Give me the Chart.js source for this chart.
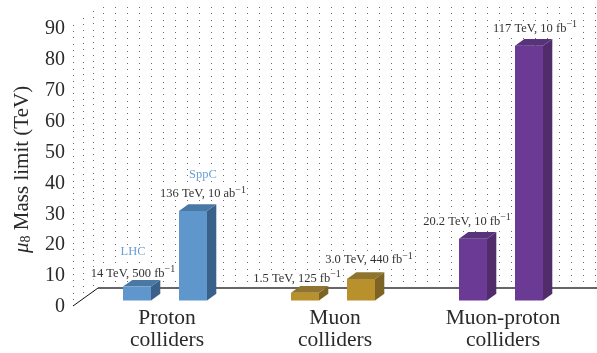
<!DOCTYPE html>
<html><head><meta charset="utf-8">
<script src="https://cdn.jsdelivr.net/npm/chart.js@4"></script>
<style>html,body{margin:0;padding:0;background:#fff}canvas{display:block}</style></head>
<body><canvas id="c" width="597" height="353"></canvas>
<script>
const categories = ["LHC","SppC","","Muon 1.5","Muon 3.0","","Muon-proton 20.2","Muon-proton 117"];
const massLimit = [4.5,29,null,2.5,7,null,20,82.5];
const yTicks = [0,10,20,30,40,50,60,70,80,90];
const energyLabels = ["14 TeV, 500 fb","136 TeV, 10 ab",null,"1.5 TeV, 125 fb","3.0 TeV, 440 fb",null,"20.2 TeV, 10 fb","117 TeV, 10 fb"];
const groupNames = [["Proton","colliders"],["Muon","colliders"],["Muon-proton","colliders"]];
const groupBars = [[0,1],[3,4],[6,7]];
const machineNames = {0:"LHC",1:"SppC"};
const frontColors = ["#5f97cd","#5f97cd","#000","#b8902c","#b8902c","#000","#6b3a94","#6b3a94"];
const sideColors  = ["#3a6189","#3a6189","#000","#7d6425","#7d6425","#000","#502c6b","#502c6b"];
const topColors   = ["#4a78a5","#4a78a5","#000","#8f7430","#8f7430","#000","#59327c","#59327c"];
const labelShift = [[-4,-13],[10,-17],null,[-8,-14],[8,-19],null,[-6,-17],[6,-17]];
const SERIF = '"Liberation Serif", serif';
const DX = 9.3, DY = 6.7;

function poly(ctx, pts, color){
  ctx.fillStyle = color; ctx.beginPath();
  pts.forEach((p,i)=> i?ctx.lineTo(p[0],p[1]):ctx.moveTo(p[0],p[1]));
  ctx.closePath(); ctx.fill();
}
const scene = {
  id:'scene',
  beforeDatasetsDraw(chart){
    const ctx = chart.ctx, y = chart.scales.y;
    ctx.save();
    ctx.fillStyle = '#6a6a6a';
    for(let v=0;v<=90;v+=2){
      const py = y.getPixelForValue(v);
      if(v<=88) for(let x=103;x<597;x+=12) ctx.fillRect(x,Math.round(py-23-(v/90)*2),1,1);
      [[73,0],[83,7],[93,14]].forEach(s=>{
        ctx.fillRect(s[0],Math.round(py-s[1]+1-(v/90)*2),1,1);
      });
    }
    ctx.strokeStyle='#666'; ctx.lineWidth=2;
    ctx.beginPath(); ctx.moveTo(98,288); ctx.lineTo(597,288); ctx.stroke();
    ctx.strokeStyle='#111'; ctx.lineWidth=1;
    ctx.beginPath(); ctx.moveTo(73,306); ctx.lineTo(98,288); ctx.stroke();
    ctx.restore();
  },
  afterDatasetsDraw(chart){
    const ctx = chart.ctx, meta = chart.getDatasetMeta(0);
    ctx.save();
    meta.data.forEach((b,i)=>{
      if(massLimit[i]==null) return;
      const l=b.x-b.width/2, r=b.x+b.width/2, t=b.y, bt=b.base;
      poly(ctx,[[r,t],[r+DX,t-DY],[r+DX,bt-DY],[r,bt]],sideColors[i]);
      poly(ctx,[[l,t],[l+DX,t-DY],[r+DX,t-DY],[r,t]],topColors[i]);
      const s=labelShift[i], cx=b.x+s[0], cy=t+s[1];
      ctx.textBaseline='middle';
      ctx.font='12.5px '+SERIF;
      const w1=ctx.measureText(energyLabels[i]).width;
      ctx.font='10px '+SERIF;
      const w2=ctx.measureText('\u22121').width;
      const x0=cx-(w1+w2)/2;
      ctx.textAlign='left';
      ctx.fillStyle='#fff'; ctx.fillRect(x0-1,cy-6,w1+w2+2,12);
      ctx.fillStyle='#333';
      ctx.font='12.5px '+SERIF; ctx.fillText(energyLabels[i],x0,cy);
      ctx.font='10px '+SERIF; ctx.fillText('\u22121',x0+w1,cy-4);
      if(machineNames[i]){
        ctx.font='12.5px '+SERIF; ctx.textAlign='center';
        const lx=i===0?133:203, ly=i===0?252:175;
        ctx.fillStyle='#fff'; ctx.fillRect(lx-15,ly-6,30,12);
        ctx.fillStyle='#6a9fd4';
        ctx.fillText(machineNames[i],lx,ly);
      }
    });
    ctx.fillStyle='#2a2a2a'; ctx.textAlign='center'; ctx.textBaseline='middle';
    ctx.font='21.5px '+SERIF;
    groupBars.forEach((g,k)=>{
      const cx=(meta.data[g[0]].x+meta.data[g[1]].x)/2+2;
      ctx.fillText(groupNames[k][0],cx,318);
      ctx.fillText(groupNames[k][1],cx,340);
    });
    ctx.translate(22,253); ctx.rotate(-Math.PI/2);
    ctx.textAlign='left'; let x=0;
    ctx.font='italic 21px '+SERIF; ctx.fillText('\u03bc',x,0); x+=ctx.measureText('\u03bc').width;
    ctx.font='14px '+SERIF; ctx.fillText('8',x,4); x+=ctx.measureText('8').width;
    ctx.font='21px '+SERIF; ctx.fillText(' Mass limit (TeV)',x,0);
    ctx.restore();
  }
};
new Chart(document.getElementById('c'),{
  type:'bar',
  data:{labels:categories,datasets:[{data:massLimit,backgroundColor:frontColors,yAxisID:'yBar',barPercentage:0.5,categoryPercentage:1,borderWidth:0}]},
  plugins:[scene],
  options:{
    responsive:false,animation:false,
    layout:{padding:{left:0,right:40,top:26,bottom:49}},
    plugins:{legend:{display:false},tooltip:{enabled:false}},
    scales:{
      x:{display:false},
      y:{min:0,max:90,afterFit(s){s.width=109;s.paddingTop=0;s.paddingBottom=0;},
         afterBuildTicks(s){s.ticks=yTicks.map(v=>({value:v}));},
         grid:{display:false},border:{display:false},
         ticks:{padding:36,labelOffset:3,autoSkip:false,color:'#2a2a2a',font:{family:'"Liberation Serif"',size:20}}},
      yBar:{display:false,min:-1.13,max:88.87}
    }
  }
});
</script></body></html>
